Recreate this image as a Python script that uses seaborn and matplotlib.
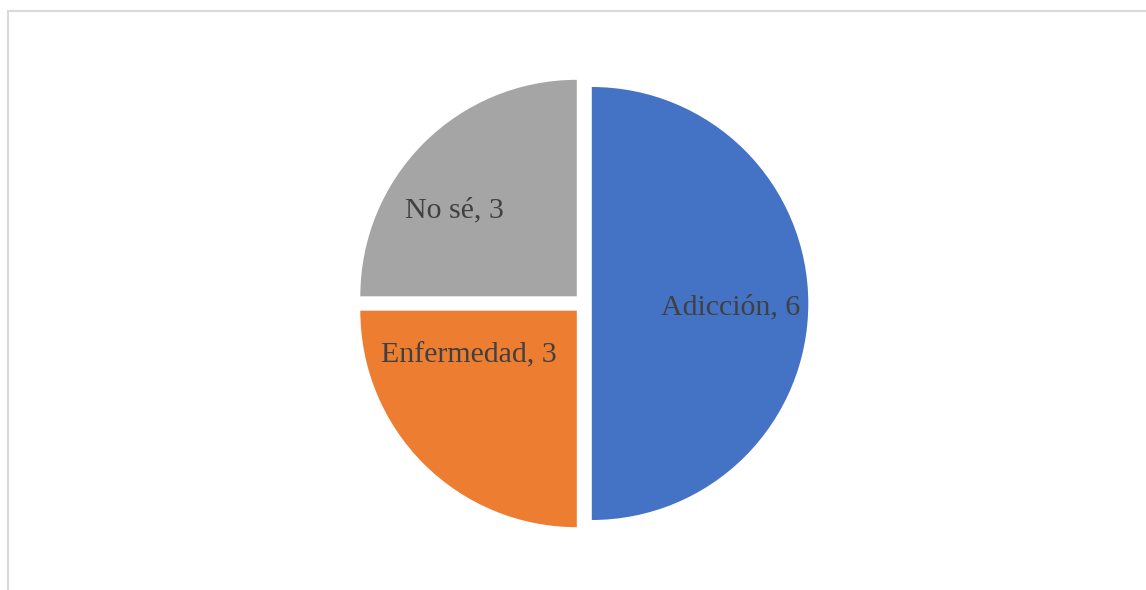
import matplotlib
matplotlib.use("Agg")
import matplotlib.pyplot as plt
from matplotlib.lines import Line2D
import seaborn as sns

# Data
categories = ["Adicción", "Enfermedad", "No sé"]
values = [6, 3, 3]
slice_colors = ["#4472C4", "#ED7D31", "#A5A5A5"]

sns.set_theme(style="white")
plt.rcParams["font.family"] = ["Liberation Serif", "DejaVu Serif"]
palette = sns.color_palette(slice_colors)

fig = plt.figure(figsize=(11.46, 5.90), dpi=100)
ax = fig.add_axes([0.32068, 0.11864, 0.37784, 0.73390])

explode = [0.036, 0.047, 0.047]
labels = [f"{c}, {v}" for c, v in zip(categories, values)]
wedges, texts = ax.pie(
    values,
    colors=palette,
    startangle=90,
    counterclock=False,
    explode=explode,
    labels=labels,
    labeldistance=0.6,
    wedgeprops=dict(linewidth=0),
    textprops=dict(fontsize=21.5, color="#404040"),
)
# Excel "best fit" label placements (axes data units, radius = 1)
label_pos = [(0.676, -0.018), (-0.533, -0.240), (-0.600, 0.430)]
for t, p in zip(texts, label_pos):
    t.set_position(p)
    t.set_ha("center")
    t.set_va("center")

ax.set_xlim(-1, 1)
ax.set_ylim(-1, 1)
ax.set_aspect("equal")
ax.axis("off")

# chart area border (top and left visible)
border = "#D9D9D9"
fig.add_artist(Line2D([7.5 / 1146, 1.0], [1 - 10.5 / 590, 1 - 10.5 / 590],
                      transform=fig.transFigure, color=border, linewidth=1.5))
fig.add_artist(Line2D([7.5 / 1146, 7.5 / 1146], [0.0, 1 - 10.5 / 590],
                      transform=fig.transFigure, color=border, linewidth=1.5))

fig.savefig("out.png", dpi=100, facecolor="white")
